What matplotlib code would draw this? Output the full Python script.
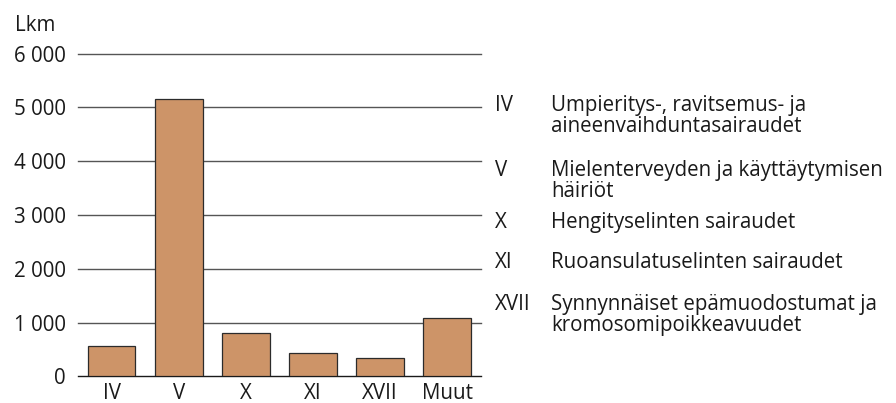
import matplotlib
matplotlib.use('Agg')
import matplotlib.pyplot as plt

plt.rcParams['font.family'] = ['Open Sans', 'DejaVu Sans']

categories = ['IV', 'V', 'X', 'XI', 'XVII', 'Muut']
counts = [570, 5160, 800, 425, 335, 1080]
y_ticks = [0, 1000, 2000, 3000, 4000, 5000, 6000]
y_tick_labels = ['0', '1 000', '2 000', '3 000', '4 000', '5 000', '6 000']

legend_codes = ['IV', 'V', 'X', 'XI', 'XVII']
legend_texts = [
    ['Umpieritys-, ravitsemus- ja', 'aineenvaihduntasairaudet'],
    ['Mielenterveyden ja käyttäytymisen', 'häiriöt'],
    ['Hengityselinten sairaudet'],
    ['Ruoansulatuselinten sairaudet'],
    ['Synnynnäiset epämuodostumat ja', 'kromosomipoikkeavuudet'],
]

W, H = 896, 403
fs = 14.8
fig = plt.figure(figsize=(W / 100, H / 100), dpi=100)
ax = fig.add_axes([78 / W, (H - 376.3) / H, 402.7 / W, 322.6 / H])

x = range(len(categories))
ax.bar(x, counts, width=0.71, color='#cd9468', edgecolor='#2b2b2b', linewidth=0.9, zorder=3)

ax.set_xlim(-0.5, len(categories) - 0.5)
ax.set_ylim(0, 6000)
ax.set_yticks(y_ticks)
ax.set_yticklabels(y_tick_labels)
ax.set_xticks(list(x))
ax.set_xticklabels(categories)
ax.tick_params(axis='both', length=0, labelsize=fs, colors='#1a1a1a')
ax.tick_params(axis='y', pad=9)
ax.tick_params(axis='x', pad=5)

for s in ['top', 'right', 'left']:
    ax.spines[s].set_visible(False)
ax.spines['bottom'].set_color('#1a1a1a')
ax.spines['bottom'].set_linewidth(1.0)

for v in y_ticks[1:]:
    ax.axhline(v, color='#555555', lw=1.0, zorder=1, clip_on=False)

fig.text(15 / W, 1 - 31 / H, 'Lkm', fontsize=fs, color='#1a1a1a', va='baseline')

baselines = [111, 176, 228, 268, 310]
step = 21
for code, lines, b in zip(legend_codes, legend_texts, baselines):
    fig.text(495 / W, 1 - b / H, code, fontsize=fs, color='#1a1a1a', va='baseline')
    for i, line in enumerate(lines):
        fig.text(551 / W, 1 - (b + i * step) / H, line, fontsize=fs, color='#1a1a1a', va='baseline')

fig.savefig('out.png', dpi=100)
